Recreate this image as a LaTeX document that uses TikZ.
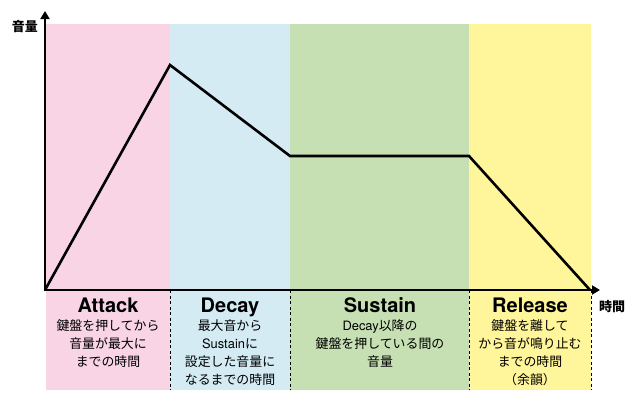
\documentclass[tikz,border=0pt]{standalone}
\usepackage{fontspec}
\setmainfont{Noto Sans CJK JP}
\newfontfamily\latfont{TeX Gyre Heros}
\usetikzlibrary{arrows.meta}
\definecolor{cpink}{RGB}{248,212,228}
\definecolor{cblue}{RGB}{212,235,244}
\definecolor{cgreen}{RGB}{198,224,180}
\definecolor{cyellow}{RGB}{255,245,154}
\tikzset{
  axis/.style={line width=2.4pt,-{Triangle[width=9pt,length=8pt]}},
  env/.style={line width=2.6pt,line join=miter},
  sep/.style={line width=0.8pt,dash pattern=on 3pt off 2.5pt},
  ttl/.style={font=\latfont\fontsize{20}{22}\selectfont\bfseries,anchor=base},
  desc/.style={font=\fontsize{12.9}{17.8}\selectfont,align=center,anchor=north},
  axlbl/.style={font=\fontsize{13}{15}\selectfont\bfseries}
}
\begin{document}
\begin{tikzpicture}[x=1pt,y=-1pt]
\useasboundingbox (0,0) rectangle (640,400);
\fill[cpink] (46,24) rectangle (170,390);
\fill[cblue] (170,24) rectangle (290,390);
\fill[cgreen] (290,24) rectangle (469,390);
\fill[cyellow] (469,24) rectangle (591,390);
\coordinate (o) at (45,290);
\coordinate (ytop) at (45,11);
\coordinate (xend) at (600,290);
\coordinate (peak) at (170,65);
\coordinate (sus1) at (290,156);
\coordinate (sus2) at (469,156);
\coordinate (rel) at (590,290);
\foreach \x/\n in {170/a,290/b,469/c,591/d}{
  \coordinate (t\n) at (\x,290);
  \coordinate (b\n) at (\x,390);
  \draw[sep] (t\n) -- (b\n);
}
\draw[env] (o) -- (peak) -- (sus1) -- (sus2) -- (rel);
\draw[axis] (45,291.2) -- (ytop);
\draw[axis] (o) -- (xend);
\node[axlbl] (ylab) at (25,27) {音量};
\node[axlbl] (xlab) at (612,307) {時間};
\node[ttl] (ta) at (108,312.3) {Attack};
\node[ttl] (td) at (230,312.3) {Decay};
\node[ttl] (ts) at (380,312.3) {Sustain};
\node[ttl] (tr) at (530,312.3) {Release};
\node[desc] (da) at (108,316.5) {鍵盤を押してから\\音量が最大に\\までの時間};
\node[desc] (dd) at (230,316.5) {最大音から\\{\latfont Sustain}に\\設定した音量に\\なるまでの時間};
\node[desc] (ds) at (380,316.5) {{\latfont Decay}以降の\\鍵盤を押している間の\\音量};
\node[desc] (dr) at (530,316.5) {鍵盤を離して\\から音が鳴り止む\\までの時間\\（余韻）};
\end{tikzpicture}
\end{document}
